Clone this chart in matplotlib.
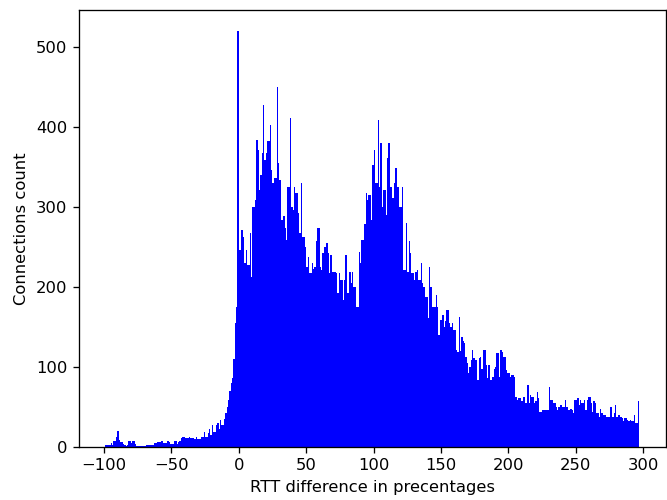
import numpy as np
import matplotlib
matplotlib.use("Agg")
import matplotlib.pyplot as plt

# Histogram bin edges (1 % wide bins from -99 to 297)
bin_start = -99
bin_stop = 297

# Connection counts per bin
counts = [
    # -99 .. -90
    2, 3, 3, 3, 5, 3, 7, 7, 12, 20,
    # -89 .. -80
    9, 6, 6, 4, 2, 1, 2, 7, 7, 5,
    # -79 .. -70
    7, 8, 4, 1, 1, 1, 1, 1, 1, 1,
    # -69 .. -60
    2, 3, 3, 3, 3, 3, 5, 5, 6, 6,
    # -59 .. -50
    6, 7, 7, 5, 5, 5, 8, 6, 4, 4,
    # -49 .. -40
    4, 7, 7, 4, 6, 8, 11, 12, 12, 11,
    # -39 .. -30
    11, 11, 13, 11, 11, 11, 10, 12, 10, 10,
    # -29 .. -20
    10, 13, 13, 19, 12, 12, 17, 22, 15, 27,
    # -19 .. -10
    19, 19, 27, 30, 23, 34, 27, 27, 35, 42,
    # -9 .. 0
    50, 59, 70, 80, 86, 110, 155, 175, 520, 246,
    # 1 .. 10
    246, 271, 263, 230, 246, 228, 228, 267, 213, 300,
    # 11 .. 20
    300, 309, 384, 371, 321, 340, 367, 427, 359, 367,
    # 21 .. 30
    382, 382, 402, 346, 330, 336, 336, 450, 355, 334,
    # 31 .. 40
    284, 284, 288, 273, 259, 325, 325, 411, 300, 296,
    # 41 .. 50
    325, 317, 317, 292, 267, 330, 263, 263, 250, 225,
    # 51 .. 60
    238, 217, 217, 230, 223, 225, 257, 273, 273, 225,
    # 61 .. 70
    221, 242, 250, 250, 255, 242, 217, 240, 219, 219,
    # 71 .. 80
    219, 217, 192, 217, 209, 209, 184, 209, 240, 192,
    # 81 .. 90
    192, 219, 205, 219, 200, 200, 175, 175, 244, 230,
    # 91 .. 100
    259, 259, 278, 317, 309, 315, 315, 284, 352, 371,
    # 101 .. 110
    330, 330, 409, 325, 380, 300, 321, 321, 290, 361,
    # 111 .. 120
    380, 325, 325, 311, 330, 348, 325, 325, 300, 300,
    # 121 .. 130
    325, 221, 221, 280, 219, 257, 242, 217, 217, 209,
    # 131 .. 140
    219, 221, 209, 209, 230, 205, 200, 188, 188, 161,
    # 141 .. 150
    225, 200, 175, 175, 175, 190, 175, 140, 159, 159,
    # 151 .. 160
    165, 150, 157, 171, 171, 155, 150, 155, 146, 146,
    # 161 .. 170
    121, 119, 163, 120, 138, 132, 130, 113, 105, 92,
    # 171 .. 180
    100, 109, 121, 111, 109, 109, 84, 111, 113, 98,
    # 181 .. 190
    121, 121, 103, 86, 103, 84, 84, 88, 98, 100,
    # 191 .. 200
    117, 117, 88, 121, 119, 113, 113, 96, 92, 92,
    # 201 .. 210
    88, 90, 90, 88, 63, 59, 61, 61, 57, 57,
    # 211 .. 220
    63, 55, 55, 78, 55, 65, 63, 63, 55, 57,
    # 221 .. 230
    69, 61, 44, 44, 46, 46, 46, 46, 46, 75,
    # 231 .. 240
    59, 59, 55, 55, 50, 46, 50, 53, 53, 50,
    # 241 .. 250
    50, 59, 50, 46, 46, 48, 46, 42, 59, 59,
    # 251 .. 260
    61, 53, 59, 55, 55, 59, 46, 59, 63, 63,
    # 261 .. 270
    55, 44, 57, 55, 42, 42, 38, 48, 42, 40,
    # 271 .. 280
    40, 38, 38, 38, 50, 50, 38, 42, 53, 38,
    # 281 .. 290
    40, 40, 38, 36, 32, 36, 36, 34, 32, 34,
    # 291 .. 296
    32, 32, 40, 30, 30, 57,
]

x_label = "RTT difference in precentages"
y_label = "Connections count"

edges = np.arange(bin_start, bin_stop + 1)
centers = edges[:-1] + 0.5

DPI = 118
fig = plt.figure(figsize=(667 / DPI, 500 / DPI), dpi=DPI)
ax = fig.add_axes([79 / 667, 53 / 500, 586.5 / 667, 437 / 500])
ax.hist(centers, bins=edges, weights=counts, color="blue")
ax.set_xlim(-118.5, 316.5)
ax.set_xlabel(x_label)
ax.set_ylabel(y_label)

fig.savefig("out.png", dpi=DPI)
